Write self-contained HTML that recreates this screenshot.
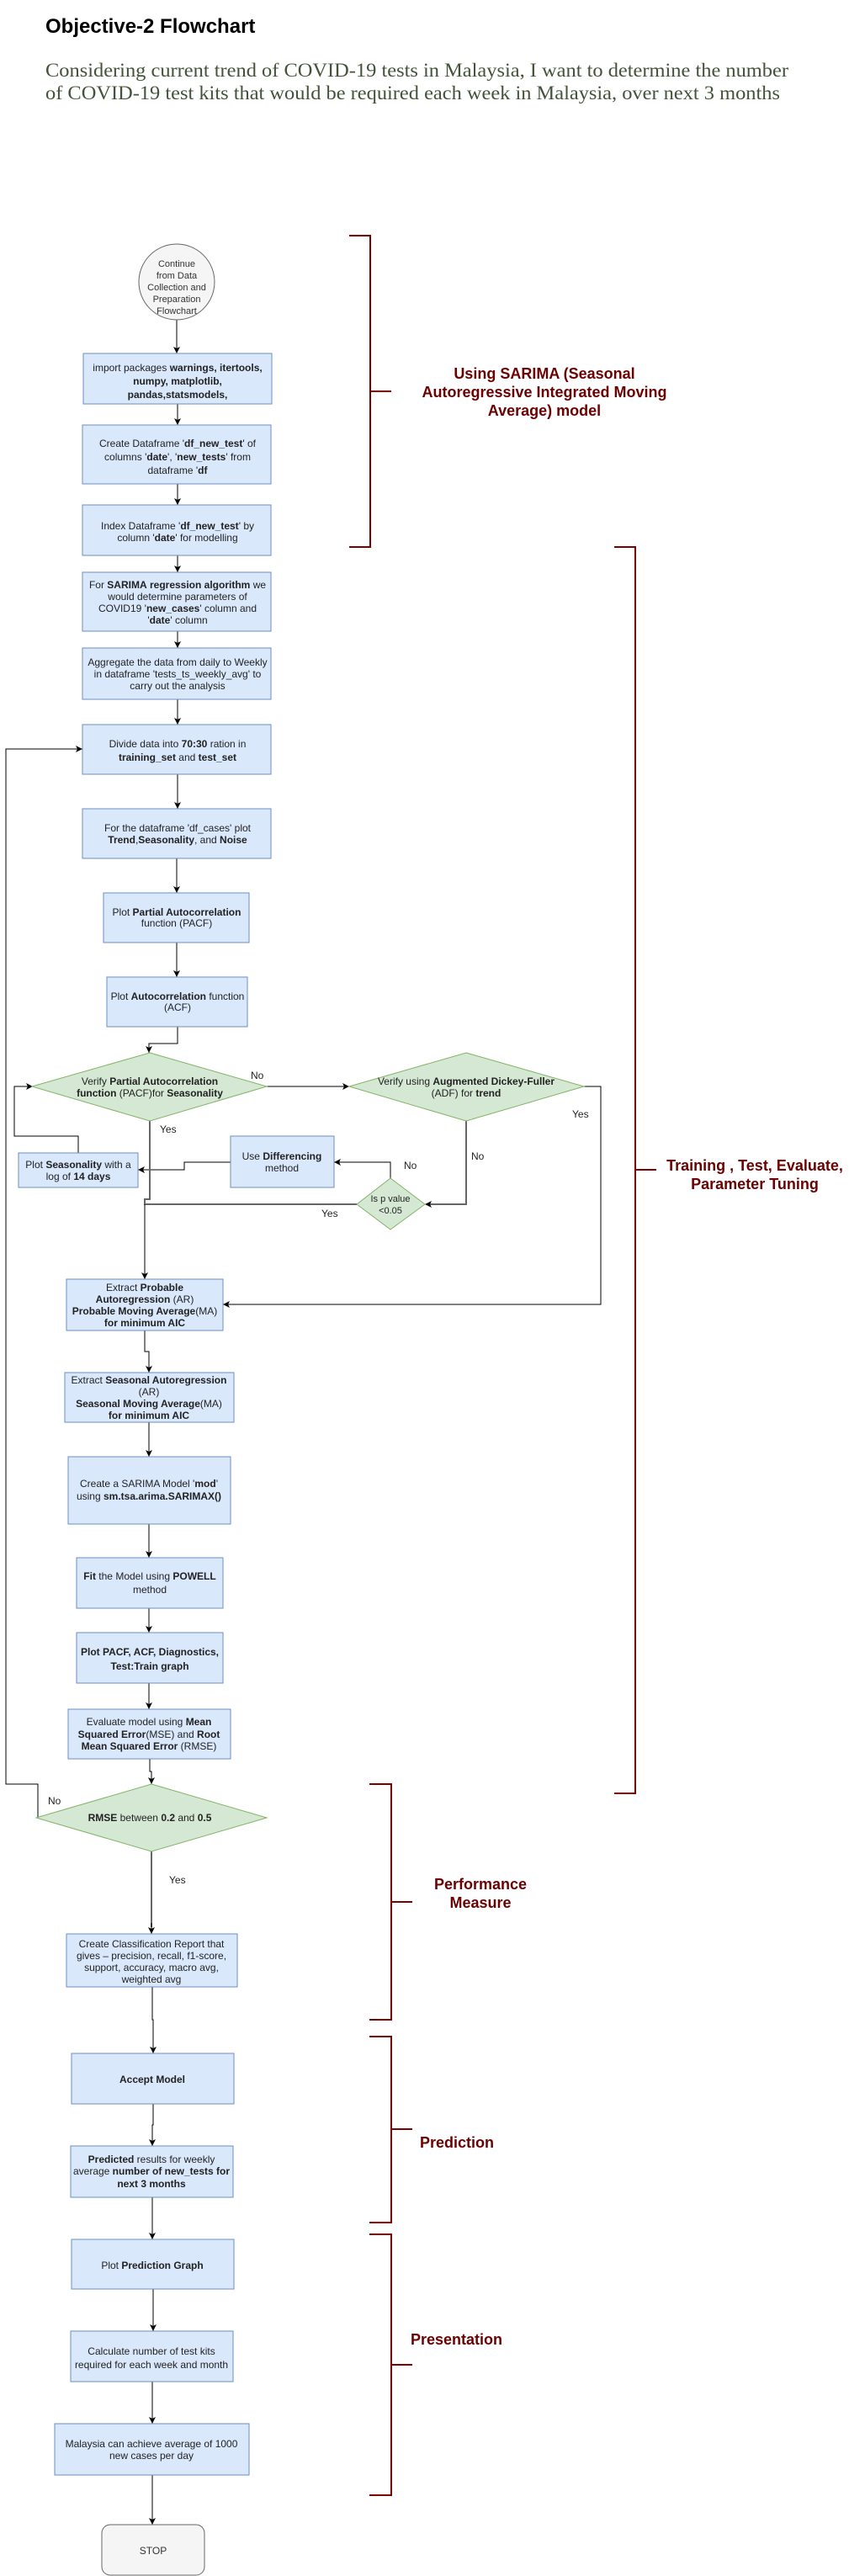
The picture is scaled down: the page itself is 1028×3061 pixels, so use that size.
<!DOCTYPE html>
<html><head><meta charset="utf-8"><style>
html,body{margin:0;padding:0;background:#fff;}
svg{display:block;}
text{font-family:"Liberation Sans",Arial,sans-serif;}
.t{font-size:12px;fill:#222;text-anchor:middle;}
.l{font-size:12px;fill:#222;}
.b{font-weight:bold;}
.br{fill:none;stroke:#7b0000;stroke-width:2;}
.bt{font-size:18px;font-weight:bold;fill:#6b0000;text-anchor:middle;}
.box{fill:#dae8fc;stroke:#6c8ebf;stroke-width:1;}
.dia{fill:#d5e8d4;stroke:#82b366;stroke-width:1;}
.c{fill:none;stroke:#000;stroke-width:1;marker-end:url(#a);}
.cn{fill:none;stroke:#000;stroke-width:1;}
.g{fill:none;stroke:#666;stroke-width:2;}
</style></head><body>
<svg width="1028" height="3061" viewBox="0 0 1028 3061" xmlns="http://www.w3.org/2000/svg">
<defs><marker id="a" markerWidth="10" markerHeight="10" refX="8" refY="5" orient="auto" markerUnits="userSpaceOnUse"><path d="M0,1 L8,5 L0,9 L2,5 Z" fill="#000"/></marker></defs>

<text x="54" y="39" style="font-size:24px;font-weight:bold;fill:#000">Objective-2 Flowchart</text>
<text x="54" y="91" textLength="883" lengthAdjust="spacingAndGlyphs" style="font-family:'Liberation Serif',serif;font-size:23px;fill:#44523a">Considering current trend of COVID-19 tests in Malaysia, I want to determine the number</text>
<text x="54" y="118" textLength="873" lengthAdjust="spacingAndGlyphs" style="font-family:'Liberation Serif',serif;font-size:23px;fill:#44523a">of COVID-19 test kits that would be required each week in Malaysia, over next 3 months</text>

<!-- brackets -->
<path class="br" d="M415,280 H440 V650 H415 M440,465 H465"/>
<text class="bt" x="647" y="450">Using SARIMA (Seasonal</text>
<text class="bt" x="647" y="472">Autoregressive Integrated Moving</text>
<text class="bt" x="647" y="494">Average) model</text>
<path class="br" d="M730,650 H755 V2131 H730 M755,1390 H780"/>
<text class="bt" x="897" y="1391">Training , Test, Evaluate,</text>
<text class="bt" x="897" y="1413">Parameter Tuning</text>
<path class="br" d="M439,2120 H465 V2400 H439 M465,2260 H490"/>
<text class="bt" x="571" y="2245">Performance</text>
<text class="bt" x="571" y="2267">Measure</text>
<path class="br" d="M439,2420 H465 V2641 H439 M465,2530 H490"/>
<text class="bt" x="499" y="2552" style="text-anchor:start">Prediction</text>
<path class="br" d="M439,2655 H465 V2965 H439 M465,2810 H490"/>
<text class="bt" x="488" y="2786" style="text-anchor:start">Presentation</text>

<!-- connectors -->
<path class="c" d="M210,380 V420"/>
<path class="c" d="M211,480 V505"/>
<path class="c" d="M211,575 V600"/>
<path class="c" d="M211,660 V680"/>
<path class="c" d="M211,750 V770"/>
<path class="c" d="M211,831 V861"/>
<path class="c" d="M211,920 V961"/>
<path class="c" d="M210,1020 V1061"/>
<path class="c" d="M210,1120 V1161"/>
<path class="c" d="M211,1220 V1240 H177 V1251"/>
<path class="c" d="M317,1291 H415"/>
<path class="c" d="M694,1291 H714 V1550 H265"/>
<path class="g" d="M554,1332 V1431 H508"/>
<path d="M505,1431 l8,-4 l-2,4 l2,4 z" fill="#000"/>
<path class="c" d="M464,1400 V1381 H397"/>
<path class="c" d="M274,1381 H219 V1390 H164"/>
<path class="c" d="M93,1370 V1350 H17 V1291 H39"/>
<path class="g" d="M178,1332 V1425 H172 V1431 H424"/>
<path class="c" d="M172,1431 V1520"/>
<path class="c" d="M172,1581 V1606 H177 V1631"/>
<path class="c" d="M177,1690 V1731"/>
<path class="c" d="M177,1811 V1851"/>
<path class="c" d="M177,1911 V1940"/>
<path class="c" d="M177,2000 V2031"/>
<path class="c" d="M178,2090 V2105 H180 V2120"/>
<path class="c" d="M45,2159 V2120 H7 V890 H98"/>
<path class="g" d="M180,2200 V2290"/>
<path class="c" d="M180,2285 V2298"/>
<path class="c" d="M181,2361 V2400 H182 V2440"/>
<path class="c" d="M182,2500 V2525 H181 V2550"/>
<path class="c" d="M181,2611 V2661"/>
<path class="c" d="M182,2720 V2770"/>
<path class="c" d="M181,2830 V2880"/>
<path class="c" d="M181,2941 V3000"/>

<text class="l" x="298" y="1282">No</text>
<text class="l" x="680" y="1328">Yes</text>
<text class="l" x="560" y="1378">No</text>
<text class="l" x="480" y="1389">No</text>
<text class="l" x="190" y="1346">Yes</text>
<text class="l" x="382" y="1446">Yes</text>
<text class="l" x="57" y="2144">No</text>
<text class="l" x="201" y="2238">Yes</text>

<!-- nodes -->
<circle cx="210" cy="335" r="45" fill="#f5f5f5" stroke="#666"/>
<text class="t" style="font-size:11px;fill:#333"><tspan x="210" y="317">Continue</tspan><tspan x="210" y="331">from Data</tspan><tspan x="210" y="345">Collection and</tspan><tspan x="210" y="359">Preparation</tspan><tspan x="210" y="373">Flowchart</tspan></text>

<rect class="box" x="99" y="420" width="224" height="60"/>
<text class="t"><tspan x="211" y="441">import packages <tspan class="b">warnings, itertools,</tspan></tspan><tspan x="211" y="457" class="b">numpy, matplotlib,</tspan><tspan x="211" y="473" class="b">pandas,statsmodels,</tspan></text>

<rect class="box" x="98" y="505" width="224" height="70"/>
<text class="t"><tspan x="211" y="531">Create Dataframe '<tspan class="b">df_new_test</tspan>' of</tspan><tspan x="211" y="547">columns '<tspan class="b">date</tspan>', '<tspan class="b">new_tests</tspan>' from</tspan><tspan x="211" y="563">dataframe '<tspan class="b">df</tspan></tspan></text>

<rect class="box" x="98" y="600" width="224" height="60"/>
<text class="t"><tspan x="211" y="629">Index Dataframe  '<tspan class="b">df_new_test</tspan>' by</tspan><tspan x="211" y="643">column '<tspan class="b">date</tspan>' for modelling</tspan></text>

<rect class="box" x="98" y="680" width="224" height="70"/>
<text class="t"><tspan x="211" y="699">For <tspan class="b">SARIMA</tspan>  <tspan class="b">regression algorithm</tspan> we</tspan><tspan x="211" y="713">would determine parameters of</tspan><tspan x="211" y="727">COVID19 '<tspan class="b">new_cases</tspan>' column and</tspan><tspan x="211" y="741">'<tspan class="b">date</tspan>' column</tspan></text>

<rect class="box" x="98" y="770" width="224" height="61"/>
<text class="t"><tspan x="211" y="791">Aggregate the data from daily to Weekly</tspan><tspan x="211" y="805">in dataframe 'tests_ts_weekly_avg' to</tspan><tspan x="211" y="819">carry out the analysis</tspan></text>

<rect class="box" x="98" y="861" width="224" height="59"/>
<text class="t"><tspan x="211" y="888">Divide data into <tspan class="b">70:30</tspan> ration in</tspan><tspan x="211" y="904"><tspan class="b">training_set</tspan> and <tspan class="b">test_set</tspan></tspan></text>

<rect class="box" x="98" y="961" width="224" height="59"/>
<text class="t"><tspan x="211" y="988">For the dataframe 'df_cases' plot</tspan><tspan x="211" y="1002"><tspan class="b">Trend</tspan>,<tspan class="b">Seasonality</tspan>, and <tspan class="b">Noise</tspan></tspan></text>

<rect class="box" x="123" y="1061" width="173" height="59"/>
<text class="t"><tspan x="210" y="1088">Plot <tspan class="b">Partial Autocorrelation</tspan></tspan><tspan x="210" y="1101">function (PACF)</tspan></text>

<rect class="box" x="127" y="1161" width="167" height="59"/>
<text class="t"><tspan x="211" y="1188">Plot <tspan class="b">Autocorrelation</tspan> function</tspan><tspan x="211" y="1201">(ACF)</tspan></text>

<polygon class="dia" points="178,1251 317,1291 178,1332 38,1291"/>
<text class="t"><tspan x="178" y="1289">Verify <tspan class="b">Partial Autocorrelation</tspan></tspan><tspan x="178" y="1303"><tspan class="b">function</tspan> (PACF)for <tspan class="b">Seasonality</tspan></tspan></text>

<polygon class="dia" points="554,1251 694,1291 554,1332 415,1291"/>
<text class="t"><tspan x="554" y="1289">Verify using <tspan class="b">Augmented Dickey-Fuller</tspan></tspan><tspan x="554" y="1303">(ADF) for <tspan class="b">trend</tspan></tspan></text>

<polygon class="dia" points="464,1400 505,1431 464,1461 424,1431"/>
<text class="t" style="font-size:11px"><tspan x="464" y="1428">Is p value</tspan><tspan x="464" y="1442">&lt;0.05</tspan></text>

<rect class="box" x="274" y="1350" width="123" height="61"/>
<text class="t"><tspan x="335" y="1378">Use <tspan class="b">Differencing</tspan></tspan><tspan x="335" y="1392">method</tspan></text>

<rect class="box" x="22" y="1370" width="142" height="41"/>
<text class="t"><tspan x="93" y="1388">Plot <tspan class="b">Seasonality</tspan> with a</tspan><tspan x="93" y="1402">log of <tspan class="b">14 days</tspan></tspan></text>

<rect class="box" x="79" y="1520" width="186" height="61"/>
<text class="t"><tspan x="172" y="1534">Extract <tspan class="b">Probable</tspan></tspan><tspan x="172" y="1548"><tspan class="b">Autoregression</tspan> (AR)</tspan><tspan x="172" y="1562"><tspan class="b">Probable Moving Average</tspan>(MA)</tspan><tspan x="172" y="1576" class="b">for minimum AIC</tspan></text>

<rect class="box" x="77" y="1631" width="201" height="59"/>
<text class="t"><tspan x="177" y="1644">Extract <tspan class="b">Seasonal Autoregression</tspan></tspan><tspan x="177" y="1658">(AR)</tspan><tspan x="177" y="1672"><tspan class="b">Seasonal Moving Average</tspan>(MA)</tspan><tspan x="177" y="1686" class="b">for minimum AIC</tspan></text>

<rect class="box" x="81" y="1731" width="193" height="80"/>
<text class="t"><tspan x="177" y="1767">Create a SARIMA Model '<tspan class="b">mod</tspan>'</tspan><tspan x="177" y="1782">using <tspan class="b">sm.tsa.arima.SARIMAX()</tspan></tspan></text>

<rect class="box" x="91" y="1851" width="174" height="60"/>
<text class="t"><tspan x="178" y="1877"><tspan class="b">Fit</tspan> the Model using <tspan class="b">POWELL</tspan></tspan><tspan x="178" y="1893">method</tspan></text>

<rect class="box" x="91" y="1940" width="174" height="60"/>
<text class="t b"><tspan x="178" y="1967">Plot PACF, ACF, Diagnostics,</tspan><tspan x="178" y="1984">Test:Train graph</tspan></text>

<rect class="box" x="81" y="2031" width="193" height="59"/>
<text class="t"><tspan x="177" y="2050">Evaluate model using <tspan class="b">Mean</tspan></tspan><tspan x="177" y="2065"><tspan class="b">Squared Error</tspan>(MSE) and <tspan class="b">Root</tspan></tspan><tspan x="177" y="2079"><tspan class="b">Mean Squared Error</tspan> (RMSE)</tspan></text>

<polygon class="dia" points="180,2120 317,2160 180,2200 43,2160"/>
<text class="t" x="178" y="2164"><tspan class="b">RMSE</tspan> between <tspan class="b">0.2</tspan> and <tspan class="b">0.5</tspan></text>

<rect class="box" x="79" y="2298" width="203" height="63"/>
<text class="t"><tspan x="180" y="2314">Create Classification Report that</tspan><tspan x="180" y="2328">gives – precision, recall, f1-score,</tspan><tspan x="180" y="2342">support, accuracy, macro avg,</tspan><tspan x="180" y="2356">weighted avg</tspan></text>

<rect class="box" x="85" y="2440" width="193" height="60"/>
<text class="t b" x="181" y="2475">Accept Model</text>

<rect class="box" x="84" y="2550" width="193" height="61"/>
<text class="t"><tspan x="180" y="2570"><tspan class="b">Predicted</tspan> results for weekly</tspan><tspan x="180" y="2584">average <tspan class="b">number of new_tests for</tspan></tspan><tspan x="180" y="2599" class="b">next 3 months</tspan></text>

<rect class="box" x="85" y="2661" width="193" height="59"/>
<text class="t" x="181" y="2696">Plot <tspan class="b">Prediction Graph</tspan></text>

<rect class="box" x="84" y="2770" width="193" height="60"/>
<text class="t"><tspan x="180" y="2798">Calculate number of test kits</tspan><tspan x="180" y="2814">required for each week and month</tspan></text>

<rect class="box" x="65" y="2880" width="231" height="61"/>
<text class="t"><tspan x="180" y="2908">Malaysia can achieve average of 1000</tspan><tspan x="180" y="2922">new cases per day</tspan></text>

<rect x="121" y="3000" width="122" height="60" rx="10" fill="#f5f5f5" stroke="#666"/>
<text class="t" x="182" y="3035" style="fill:#333">STOP</text>
</svg>
</body></html>
